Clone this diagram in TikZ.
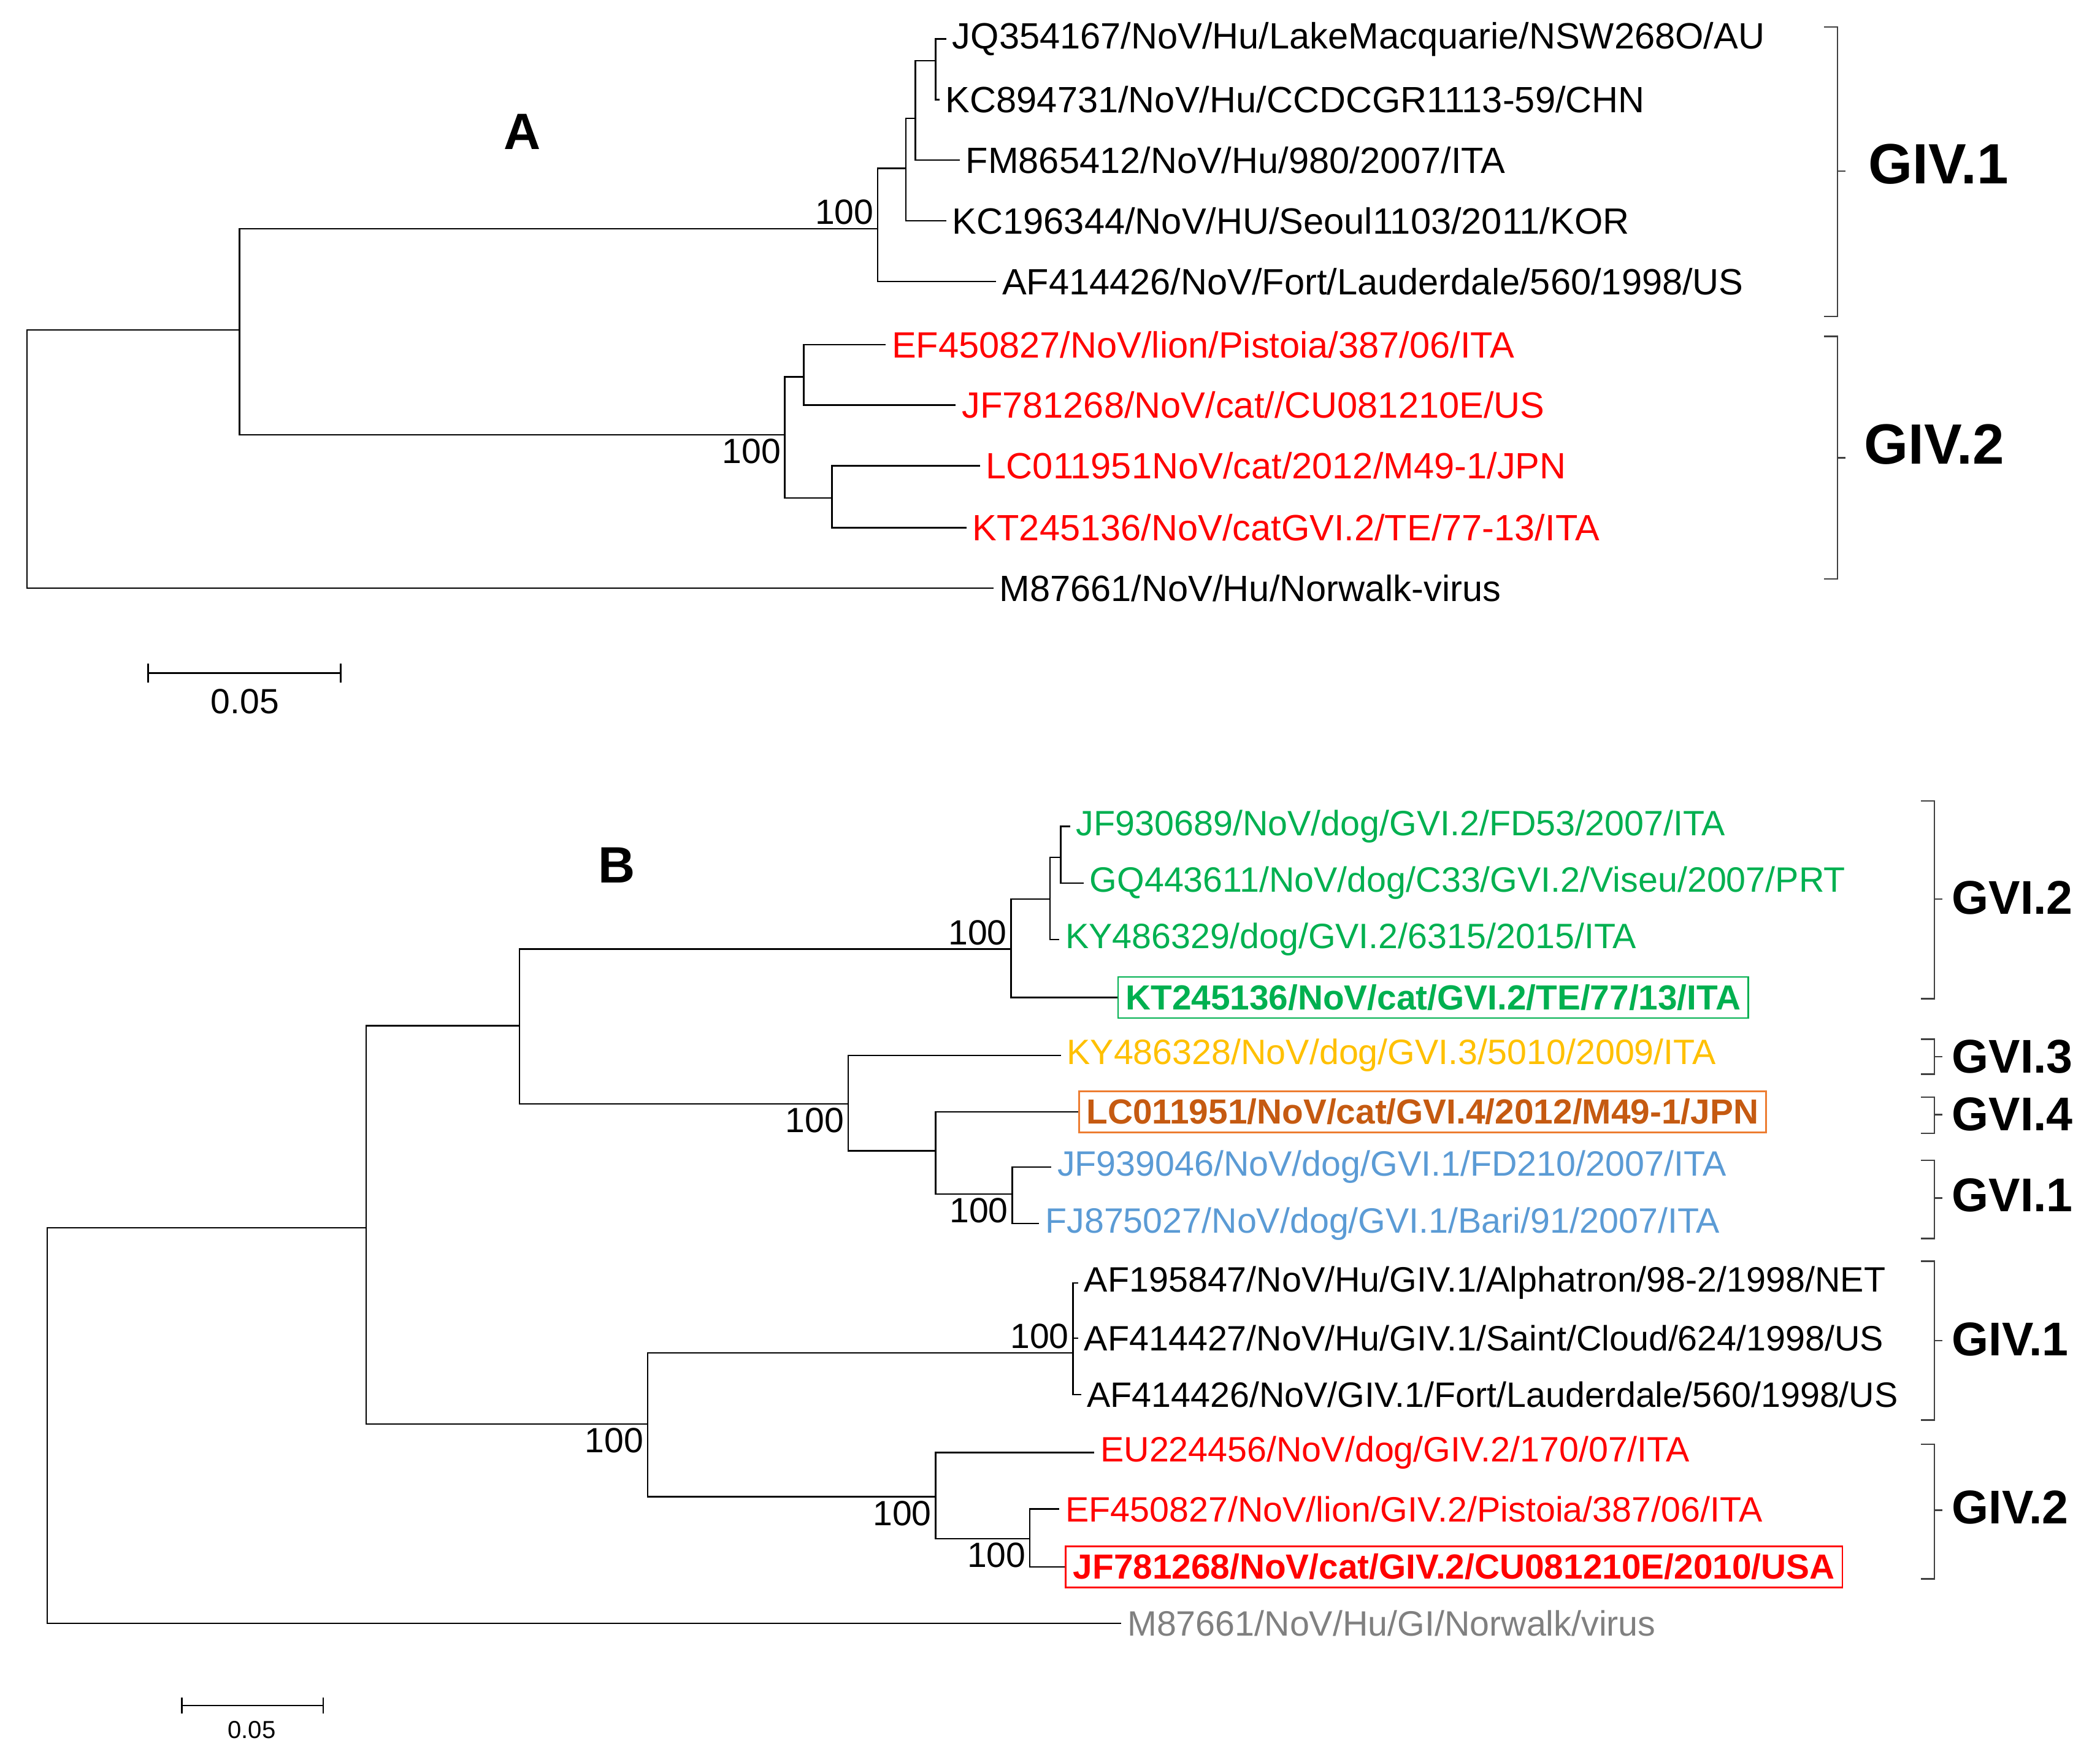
\documentclass[tikz,border=0pt]{standalone}
\usepackage{fontspec}
\setmainfont{Liberation Sans}
\usetikzlibrary{positioning, calc}
\definecolor{cladegreen}{RGB}{0,176,80}
\definecolor{cladeorange}{RGB}{197,90,17}
\definecolor{boxorange}{RGB}{237,125,49}
\definecolor{cladeblue}{RGB}{91,155,213}
\definecolor{cladeyellow}{RGB}{255,192,0}
\definecolor{cladegray}{RGB}{128,128,128}

\begin{document}
\begin{tikzpicture}[
    x=0.025cm, y=-0.025cm,
    % styles
    leafA/.style={anchor=west, inner sep=3pt, font=\fontsize{19.3}{21}\selectfont},
    leafB/.style={anchor=west, inner sep=3pt, font=\fontsize{18.6}{20}\selectfont},
    boxleaf/.style={leafB, draw, line width=0.8pt, inner sep=4pt, font=\fontsize{18.4}{20}\selectfont\bfseries},
    boot/.style={inner sep=2pt, font=\fontsize{18.5}{20}\selectfont},
    branch/.style={line width=0.8pt},
    bracket/.style={line width=0.8pt, color=black!75},
    clade/.style={anchor=west, font=\fontsize{30}{34}\selectfont\bfseries},
    cladeB/.style={anchor=west, font=\fontsize{25}{28}\selectfont\bfseries},
    panel/.style={font=\fontsize{27}{30}\selectfont\bfseries}
]
\useasboundingbox (0,0) rectangle (1560,1297);

% ========== TREE A ==========
\node[panel] (labA) at (388,98) {A};
\coordinate (rA) at (20,340);
\coordinate (a1) at (178,245);
\coordinate (a2) at (652,170);
\coordinate (a3) at (673,125);
\coordinate (a4) at (680,88);
\coordinate (a5) at (695,45);
\coordinate (b1) at (583,323);
\coordinate (b2) at (597,280);
\coordinate (b3) at (618,370);

\node[leafA] (jq) at (703,29) {JQ354167/NoV/Hu/LakeMacquarie/NSW268O/AU};
\node[leafA] (kc89) at (698,74) {KC894731/NoV/Hu/CCDCGR1113-59/CHN};
\node[leafA] (fm) at (713,119) {FM865412/NoV/Hu/980/2007/ITA};
\node[leafA] (kc19) at (703,164) {KC196344/NoV/HU/Seoul1103/2011/KOR};
\node[leafA] (afA) at (740,209) {AF414426/NoV/Fort/Lauderdale/560/1998/US};
\node[leafA, text=red] (efA) at (658,256) {EF450827/NoV/lion/Pistoia/387/06/ITA};
\node[leafA, text=red] (jfA) at (710,301) {JF781268/NoV/cat//CU081210E/US};
\node[leafA, text=red] (lcA) at (728,346) {LC011951NoV/cat/2012/M49-1/JPN};
\node[leafA, text=red] (ktA) at (718,392) {KT245136/NoV/catGVI.2/TE/77-13/ITA};
\node[leafA] (m87A) at (738,437) {M87661/NoV/Hu/Norwalk-virus};

\draw[branch] (rA) |- (a1);
\draw[branch] (rA) |- (m87A.west);
\draw[branch] (a1) |- (a2);
\draw[branch] (a1) |- (b1);
\draw[branch] (a2) |- (a3);
\draw[branch] (a2) |- (afA.west);
\draw[branch] (a3) |- (a4);
\draw[branch] (a3) |- (kc19.west);
\draw[branch] (a4) |- (a5);
\draw[branch] (a4) |- (fm.west);
\draw[branch] (a5) |- (jq.west);
\draw[branch] (a5) |- (kc89.west);
\draw[branch] (b1) |- (b2);
\draw[branch] (b1) |- (b3);
\draw[branch] (b2) |- (efA.west);
\draw[branch] (b2) |- (jfA.west);
\draw[branch] (b3) |- (lcA.west);
\draw[branch] (b3) |- (ktA.west);

\node[boot, anchor=south east] at (a2) {100};
\node[boot, anchor=north east] at (b1) {100};

% clades A
\draw[bracket] (1355,20) -| (1365,235) -- (1355,235);
\draw[bracket] (1365,127) -- (1371,127);
\node[clade] at (1383,122) {GIV.1};
\draw[bracket] (1355,250) -| (1365,430) -- (1355,430);
\draw[bracket] (1365,340) -- (1371,340);
\node[clade] at (1380,330) {GIV.2};

% scale A
\draw[branch] (110,500) -- (253,500);
\draw[branch] (110,493) -- (110,507);
\draw[branch] (253,493) -- (253,507);
\node[boot] at (182,521) {0.05};

% ========== TREE B ==========
\node[panel] (labB) at (458,643) {B};
\coordinate (rB) at (35,1000);
\coordinate (c1) at (272,912);
\coordinate (c2) at (386,762);
\coordinate (c3) at (751,705);
\coordinate (c4) at (780,668);
\coordinate (c5) at (788,637);
\coordinate (c6) at (630,820);
\coordinate (c7) at (695,855);
\coordinate (c8) at (752,887);
\coordinate (d1) at (481,1058);
\coordinate (d2) at (797,1005);
\coordinate (d3) at (695,1112);
\coordinate (d4) at (765,1143);

\node[leafB, text=cladegreen] (jf93) at (795,614) {JF930689/NoV/dog/GVI.2/FD53/2007/ITA};
\node[leafB, text=cladegreen] (gq) at (805,656) {GQ443611/NoV/dog/C33/GVI.2/Viseu/2007/PRT};
\node[leafB, text=cladegreen] (ky29) at (787,698) {KY486329/dog/GVI.2/6315/2015/ITA};
\node[boxleaf, draw=cladegreen, text=cladegreen] (ktB) at (830,741) {KT245136/NoV/cat/GVI.2/TE/77/13/ITA};
\node[leafB, text=cladeyellow] (ky28) at (788,784) {KY486328/NoV/dog/GVI.3/5010/2009/ITA};
\node[boxleaf, draw=boxorange, text=cladeorange] (lcB) at (801,826) {LC011951/NoV/cat/GVI.4/2012/M49-1/JPN};
\node[leafB, text=cladeblue] (jf939) at (781,867) {JF939046/NoV/dog/GVI.1/FD210/2007/ITA};
\node[leafB, text=cladeblue] (fj) at (772,909) {FJ875027/NoV/dog/GVI.1/Bari/91/2007/ITA};
\node[leafB] (af19) at (801,953) {AF195847/NoV/Hu/GIV.1/Alphatron/98-2/1998/NET};
\node[leafB] (af27) at (801,994) {AF414427/NoV/Hu/GIV.1/Saint/Cloud/624/1998/US};
\node[leafB] (af26) at (803,1036) {AF414426/NoV/GIV.1/Fort/Lauderdale/560/1998/US};
\node[leafB, text=red] (eu) at (813,1079) {EU224456/NoV/dog/GIV.2/170/07/ITA};
\node[leafB, text=red] (efB) at (787,1121) {EF450827/NoV/lion/GIV.2/Pistoia/387/06/ITA};
\node[boxleaf, draw=red, text=red] (jfB) at (791,1164) {JF781268/NoV/cat/GIV.2/CU081210E/2010/USA};
\node[leafB, text=cladegray] (m87B) at (833,1206) {M87661/NoV/Hu/GI/Norwalk/virus};

\draw[branch] (rB) |- (c1);
\draw[branch] (rB) |- (m87B.west);
\draw[branch] (c1) |- (c2);
\draw[branch] (c1) |- (d1);
\draw[branch] (c2) |- (c3);
\draw[branch] (c2) |- (c6);
\draw[branch] (c3) |- (c4);
\draw[branch] (c3) |- (ktB.west);
\draw[branch] (c4) |- (c5);
\draw[branch] (c4) |- (ky29.west);
\draw[branch] (c5) |- (jf93.west);
\draw[branch] (c5) |- (gq.west);
\draw[branch] (c6) |- (ky28.west);
\draw[branch] (c6) |- (c7);
\draw[branch] (c7) |- (lcB.west);
\draw[branch] (c7) |- (c8);
\draw[branch] (c8) |- (jf939.west);
\draw[branch] (c8) |- (fj.west);
\draw[branch] (d1) |- (d2);
\draw[branch] (d1) |- (d3);
\draw[branch] (d2) |- (af19.west);
\draw[branch] (d2) |- (af27.west);
\draw[branch] (d2) |- (af26.west);
\draw[branch] (d3) |- (eu.west);
\draw[branch] (d3) |- (d4);
\draw[branch] (d4) |- (efB.west);
\draw[branch] (d4) |- (jfB.west);

\node[boot, anchor=south east] at (c3) {100};
\node[boot, anchor=north east] at (c6) {100};
\node[boot, anchor=north east] at (c8) {100};
\node[boot, anchor=south east] at (d2) {100};
\node[boot, anchor=north east] at (d1) {100};
\node[boot, anchor=north east] at (d3) {100};
\node[boot, anchor=north east] at (d4) {100};

% clades B
\draw[bracket] (1427,595) -| (1437,742) -- (1427,742);
\draw[bracket] (1437,668) -- (1443,668);
\node[cladeB] at (1445,667) {GVI.2};
\draw[bracket] (1427,772) -| (1437,798) -- (1427,798);
\draw[bracket] (1437,785) -- (1443,785);
\node[cladeB] at (1445,785) {GVI.3};
\draw[bracket] (1427,815) -| (1437,842) -- (1427,842);
\draw[bracket] (1437,828) -- (1443,828);
\node[cladeB] at (1445,828) {GVI.4};
\draw[bracket] (1427,862) -| (1437,920) -- (1427,920);
\draw[bracket] (1437,890) -- (1443,890);
\node[cladeB] at (1445,888) {GVI.1};
\draw[bracket] (1427,937) -| (1437,1055) -- (1427,1055);
\draw[bracket] (1437,996) -- (1443,996);
\node[cladeB] at (1445,995) {GIV.1};
\draw[bracket] (1427,1073) -| (1437,1173) -- (1427,1173);
\draw[bracket] (1437,1122) -- (1443,1122);
\node[cladeB] at (1445,1120) {GIV.2};

% scale B
\draw[branch] (135,1267) -- (240,1267);
\draw[branch] (135,1261) -- (135,1273);
\draw[branch] (240,1261) -- (240,1273);
\node[boot, font=\fontsize{13}{15}\selectfont] at (187,1285) {0.05};
\end{tikzpicture}
\end{document}
